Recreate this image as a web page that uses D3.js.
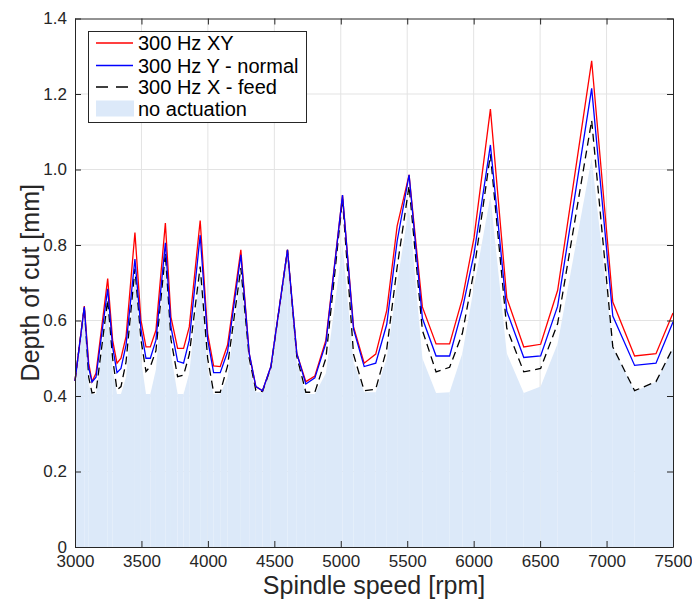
<!DOCTYPE html>
<html>
<head>
<meta charset="utf-8">
<script src="https://cdn.jsdelivr.net/npm/d3@7"></script>
<style>
  body { margin: 0; background: #fff; }
  svg { display: block; font-family: "Liberation Sans", Arial, Helvetica, sans-serif; }
</style>
</head>
<body>
<svg id="chart" width="692" height="601"></svg>
<script>
// spindle speeds (rpm) where the stability lobes were evaluated
const speeds = [3000, 3070, 3103, 3128, 3158, 3246, 3283, 3316, 3346, 3384,
  3451, 3496, 3534, 3567, 3609, 3680, 3722, 3772, 3817, 3860,
  3942, 3998, 4043, 4093, 4148, 4248, 4311, 4361, 4411, 4474,
  4599, 4669, 4737, 4805, 4888, 5013, 5096, 5176, 5263, 5346,
  5424, 5514, 5614, 5717, 5819, 5915, 6003, 6126, 6249, 6377,
  6504, 6632, 6888, 7047, 7211, 7372, 7500];

// depth of cut (mm)
const xyActuation = [0.44, 0.638, 0.487, 0.438, 0.46, 0.711, 0.548, 0.487, 0.50, 0.557,
  0.833, 0.601, 0.53, 0.53, 0.574, 0.858, 0.609, 0.526, 0.526, 0.583,
  0.865, 0.566, 0.48, 0.478, 0.535, 0.787, 0.513, 0.425, 0.414, 0.478,
  0.787, 0.513, 0.438, 0.453, 0.548, 0.932, 0.583, 0.487, 0.511, 0.627,
  0.85, 0.986, 0.636, 0.538, 0.538, 0.658, 0.82, 1.16, 0.66, 0.53,
  0.537, 0.68, 1.288, 0.649, 0.506, 0.512, 0.62];

const yNormal = [0.44, 0.636, 0.475, 0.437, 0.45, 0.684, 0.53, 0.462, 0.473, 0.535,
  0.763, 0.578, 0.50, 0.50, 0.548, 0.806, 0.583, 0.492, 0.487, 0.548,
  0.826, 0.55, 0.462, 0.462, 0.517, 0.774, 0.513, 0.425, 0.414, 0.478,
  0.787, 0.513, 0.432, 0.448, 0.54, 0.932, 0.577, 0.478, 0.487, 0.59,
  0.81, 0.986, 0.606, 0.506, 0.506, 0.63, 0.777, 1.065, 0.625, 0.502,
  0.506, 0.638, 1.215, 0.612, 0.481, 0.487, 0.596];

const xFeed = [0.44, 0.636, 0.45, 0.408, 0.41, 0.655, 0.50, 0.416, 0.425, 0.49,
  0.737, 0.55, 0.465, 0.478, 0.52, 0.778, 0.55, 0.451, 0.455, 0.51,
  0.743, 0.50, 0.41, 0.41, 0.48, 0.739, 0.50, 0.415, 0.412, 0.475,
  0.787, 0.505, 0.41, 0.41, 0.50, 0.922, 0.51, 0.414, 0.418, 0.525,
  0.741, 0.957, 0.574, 0.464, 0.476, 0.566, 0.733, 1.04, 0.58, 0.464,
  0.473, 0.592, 1.13, 0.53, 0.414, 0.438, 0.528];

const noActuation = [0.44, 0.62, 0.43, 0.405, 0.405, 0.64, 0.47, 0.405, 0.405, 0.45,
  0.72, 0.50, 0.405, 0.405, 0.47, 0.765, 0.51, 0.405, 0.405, 0.46,
  0.735, 0.47, 0.405, 0.405, 0.45, 0.724, 0.48, 0.41, 0.41, 0.47,
  0.78, 0.49, 0.405, 0.405, 0.46, 0.80, 0.49, 0.41, 0.41, 0.50,
  0.70, 0.90, 0.50, 0.408, 0.41, 0.513, 0.69, 0.93, 0.513, 0.408,
  0.425, 0.539, 1.03, 0.53, 0.412, 0.438, 0.526];

const xTicks = [3000, 3500, 4000, 4500, 5000, 5500, 6000, 6500, 7000, 7500];
const yTicks = [0, 0.2, 0.4, 0.6, 0.8, 1.0, 1.2, 1.4];
const yTickLabels = ["0", "0.2", "0.4", "0.6", "0.8", "1.0", "1.2", "1.4"];

const legendLabels = ["300 Hz XY", "300 Hz Y - normal", "300 Hz X - feed", "no actuation"];

const svg = d3.select("#chart");
const plot = { left: 75, right: 673, top: 18.5, bottom: 547 };
const ink = "#262626";
const fillColor = "#dce9f9";

const x = d3.scaleLinear().domain([3000, 7500]).range([plot.left, plot.right]);
const y = d3.scaleLinear().domain([0, 1.4]).range([plot.bottom, plot.top]);

// grid
const grid = svg.append("g");
grid.selectAll("line.vx")
  .data(xTicks.slice(1, -1))
  .join("line")
  .attr("x1", (d) => x(d)).attr("x2", (d) => x(d))
  .attr("y1", plot.top).attr("y2", plot.bottom)
  .attr("stroke", "#e3e3e3");
grid.selectAll("line.hy")
  .data(yTicks.slice(1, -1))
  .join("line")
  .attr("x1", plot.left).attr("x2", plot.right)
  .attr("y1", (d) => y(d)).attr("y2", (d) => y(d))
  .attr("stroke", "#e3e3e3");

// no actuation: drawn segment by segment, like the patch strips of the original
const strips = d3.pairs(speeds.map((s, i) => [s, noActuation[i]]));
svg.append("g")
  .selectAll("path")
  .data(strips)
  .join("path")
  .attr("d", ([a, b]) =>
    `M${x(a[0])},${y(0)}L${x(a[0])},${y(a[1])}L${x(b[0])},${y(b[1])}L${x(b[0])},${y(0)}Z`)
  .attr("fill", fillColor);

const line = (values) =>
  d3.line().x((d, i) => x(speeds[i])).y((d) => y(d))(values);

svg.append("path")
  .attr("d", line(xFeed))
  .attr("fill", "none")
  .attr("stroke", "#000")
  .attr("stroke-width", 1.3)
  .attr("stroke-dasharray", "8,5");

svg.append("path")
  .attr("d", line(xyActuation))
  .attr("fill", "none")
  .attr("stroke", "#ff0000")
  .attr("stroke-width", 1.3);

svg.append("path")
  .attr("d", line(yNormal))
  .attr("fill", "none")
  .attr("stroke", "#0000ff")
  .attr("stroke-width", 1.3);

// axes with inward ticks on all sides
const tickFont = 17;
const xAxis = svg.append("g")
  .attr("transform", `translate(0,${plot.bottom})`)
  .call(d3.axisBottom(x).tickValues(xTicks).tickSizeInner(-6).tickSizeOuter(0).tickPadding(8).tickFormat(d3.format("d")));
const yAxis = svg.append("g")
  .attr("transform", `translate(${plot.left},0)`)
  .call(d3.axisLeft(y).tickValues(yTicks).tickSizeInner(-6).tickSizeOuter(0).tickPadding(8)
    .tickFormat((d, i) => yTickLabels[i]));
const topAxis = svg.append("g")
  .attr("transform", `translate(0,${plot.top})`)
  .call(d3.axisTop(x).tickValues(xTicks).tickSizeInner(-6).tickSizeOuter(0).tickFormat(""));
const rightAxis = svg.append("g")
  .attr("transform", `translate(${plot.right},0)`)
  .call(d3.axisRight(y).tickValues(yTicks).tickSizeInner(-6).tickSizeOuter(0).tickFormat(""));

[xAxis, yAxis, topAxis, rightAxis].forEach((g) => {
  g.select(".domain").attr("stroke", ink);
  g.selectAll(".tick line").attr("stroke", ink);
  g.selectAll(".tick text")
    .attr("fill", ink)
    .style("font-size", `${tickFont}px`)
    .style("font-family", "'Liberation Sans', Arial, sans-serif");
});

svg.append("text")
  .attr("x", (plot.left + plot.right) / 2)
  .attr("y", 594)
  .attr("text-anchor", "middle")
  .attr("fill", ink)
  .style("font-size", "25px")
  .text("Spindle speed [rpm]");

svg.append("text")
  .attr("transform", `translate(39,${(plot.top + plot.bottom) / 2}) rotate(-90)`)
  .attr("text-anchor", "middle")
  .attr("fill", ink)
  .style("font-size", "25px")
  .text("Depth of cut [mm]");

// legend
const legend = svg.append("g");
legend.append("rect")
  .attr("x", 88.5).attr("y", 31.5)
  .attr("width", 218).attr("height", 91)
  .attr("fill", "#fff")
  .attr("stroke", ink);

const rowY = [43, 65.5, 87, 108.5];
const swatches = [
  { stroke: "#ff0000" },
  { stroke: "#0000ff" },
  { stroke: "#000", dash: "12,8" },
  { fill: fillColor },
];

legendLabels.forEach((label, i) => {
  const s = swatches[i];
  if (s.fill) {
    legend.append("rect")
      .attr("x", 96).attr("y", rowY[i] - 8)
      .attr("width", 38).attr("height", 16)
      .attr("fill", s.fill);
  } else {
    legend.append("line")
      .attr("x1", 96).attr("x2", 133)
      .attr("y1", rowY[i]).attr("y2", rowY[i])
      .attr("stroke", s.stroke)
      .attr("stroke-width", 1.3)
      .attr("stroke-dasharray", s.dash || null);
  }
  legend.append("text")
    .attr("x", 138)
    .attr("y", rowY[i])
    .attr("dy", "0.36em")
    .attr("fill", "#000")
    .style("font-size", "20px")
    .text(label);
});
</script>
</body>
</html>
